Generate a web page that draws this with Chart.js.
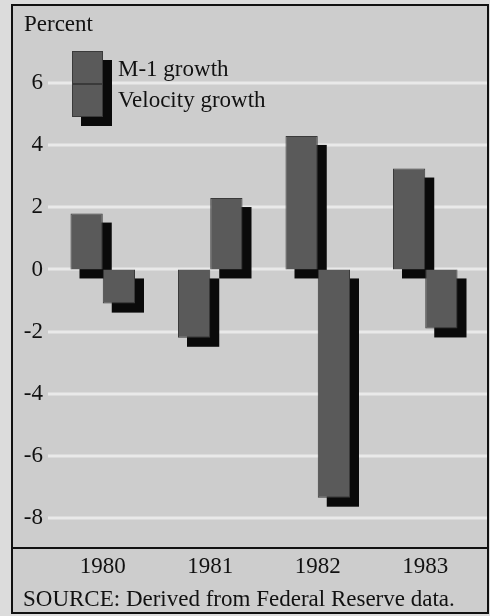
<!DOCTYPE html>
<html>
<head>
<meta charset="utf-8">
<title>M-1 and velocity growth</title>
<script src="https://cdn.jsdelivr.net/npm/chart.js@4.4.1/dist/chart.umd.min.js"></script>
<style>
    html, body { margin: 0; padding: 0; background: #dcdcdc; }
    canvas { display: block; }
</style>
</head>
<body>
<canvas id="growthChart" width="490" height="616"></canvas>
<script>
// Data (percent)
const years = ['1980', '1981', '1982', '1983'];
const m1Growth = [1.8, -2.2, 4.3, 3.25];
const velocityGrowth = [-1.1, 2.3, -7.35, -1.9];
const yTicks = [-8, -6, -4, -2, 0, 2, 4, 6];
const seriesLabels = ['M-1 growth', 'Velocity growth'];
const sourceNote = 'SOURCE: Derived from Federal Reserve data.';

const FONT = "'Liberation Serif', 'Times New Roman', serif";
const FONT_SIZE = 23;
const BG = '#cdcdcd';
const BAR = '#5a5a5a';
const SHADOW = 9;

// Frame, gridlines, drop shadows and the hand-placed legend
const framePlugin = {
    id: 'frame',
    beforeDraw(chart) {
        const ctx = chart.ctx;
        ctx.save();
        ctx.fillStyle = '#dcdcdc';
        ctx.fillRect(0, 0, chart.width, chart.height);
        ctx.fillStyle = BG;
        ctx.fillRect(12, 5, 476, 608);
        ctx.restore();
    },
    beforeDatasetsDraw(chart) {
        const ctx = chart.ctx;
        const y = chart.scales.y;
        const area = chart.chartArea;
        ctx.save();
        // white gridlines
        ctx.strokeStyle = '#e9e9e9';
        ctx.lineWidth = 3;
        y.ticks.forEach(t => {
            const py = Math.round(y.getPixelForValue(t.value));
            ctx.beginPath();
            ctx.moveTo(area.left - 1, py);
            ctx.lineTo(488, py);
            ctx.stroke();
        });
        // black drop shadows behind every bar
        ctx.fillStyle = '#0a0a0a';
        chart.data.datasets.forEach((ds, i) => {
            chart.getDatasetMeta(i).data.forEach(bar => {
                const p = bar.getProps(['x', 'y', 'base', 'width'], true);
                const top = Math.min(p.y, p.base);
                const h = Math.abs(p.base - p.y);
                ctx.fillRect(p.x - p.width / 2 + SHADOW, top + SHADOW, p.width, h);
            });
        });
        ctx.restore();
    },
    afterDraw(chart) {
        const ctx = chart.ctx;
        const area = chart.chartArea;
        ctx.save();
        // legend: two stacked boxes with a shared shadow
        const lx = 72, ly = 51, lw = 31, lh = 33;
        ctx.fillStyle = '#0a0a0a';
        ctx.fillRect(lx + SHADOW, ly + SHADOW, lw, lh * 2);
        ctx.font = FONT_SIZE + 'px ' + FONT;
        ctx.textBaseline = 'alphabetic';
        seriesLabels.forEach((label, i) => {
            ctx.fillStyle = BAR;
            ctx.fillRect(lx, ly + i * lh, lw, lh);
            ctx.strokeStyle = '#3a3a3a';
            ctx.lineWidth = 1;
            ctx.strokeRect(lx + 0.5, ly + i * lh + 0.5, lw - 1, lh - 1);
            ctx.fillStyle = '#111';
            ctx.fillText(label, 118, 76 + i * 31);
        });
        // axis caption
        ctx.fillText('Percent', 24, 31);
        // source line
        ctx.fillText(sourceNote, 23, 606);
        // frame and separator
        ctx.strokeStyle = '#111';
        ctx.lineWidth = 2;
        ctx.strokeRect(12, 5, 476, 608);
        ctx.beginPath();
        ctx.moveTo(12, Math.round(area.bottom));
        ctx.lineTo(488, Math.round(area.bottom));
        ctx.stroke();
        ctx.restore();
    }
};

new Chart(document.getElementById('growthChart'), {
    type: 'bar',
    data: {
        labels: years,
        datasets: [
            {
                label: seriesLabels[0],
                data: m1Growth,
                backgroundColor: BAR,
                borderColor: '#3a3a3a',
                borderWidth: 1
            },
            {
                label: seriesLabels[1],
                data: velocityGrowth,
                backgroundColor: BAR,
                borderColor: '#3a3a3a',
                borderWidth: 1
            }
        ]
    },
    options: {
        responsive: false,
        animation: false,
        datasets: {
            bar: {
                categoryPercentage: 0.6,
                barPercentage: 1.0
            }
        },
        layout: {
            padding: { top: 5, right: 11, left: 0, bottom: 0 }
        },
        plugins: {
            legend: { display: false },
            tooltip: { enabled: false }
        },
        scales: {
            x: {
                grid: { display: false, drawTicks: false },
                border: { display: false },
                ticks: {
                    color: '#111',
                    padding: 5,
                    font: { family: FONT, size: FONT_SIZE }
                },
                afterFit: scale => { scale.height = 68; }
            },
            y: {
                min: -8.97,
                max: 8.04,
                grid: { display: false, drawTicks: false },
                border: { display: false },
                ticks: {
                    color: '#111',
                    padding: 6,
                    font: { family: FONT, size: FONT_SIZE }
                },
                afterBuildTicks: scale => {
                    scale.ticks = yTicks.map(v => ({ value: v }));
                },
                afterFit: scale => { scale.width = 49; }
            }
        }
    },
    plugins: [framePlugin]
});
</script>
</body>
</html>
